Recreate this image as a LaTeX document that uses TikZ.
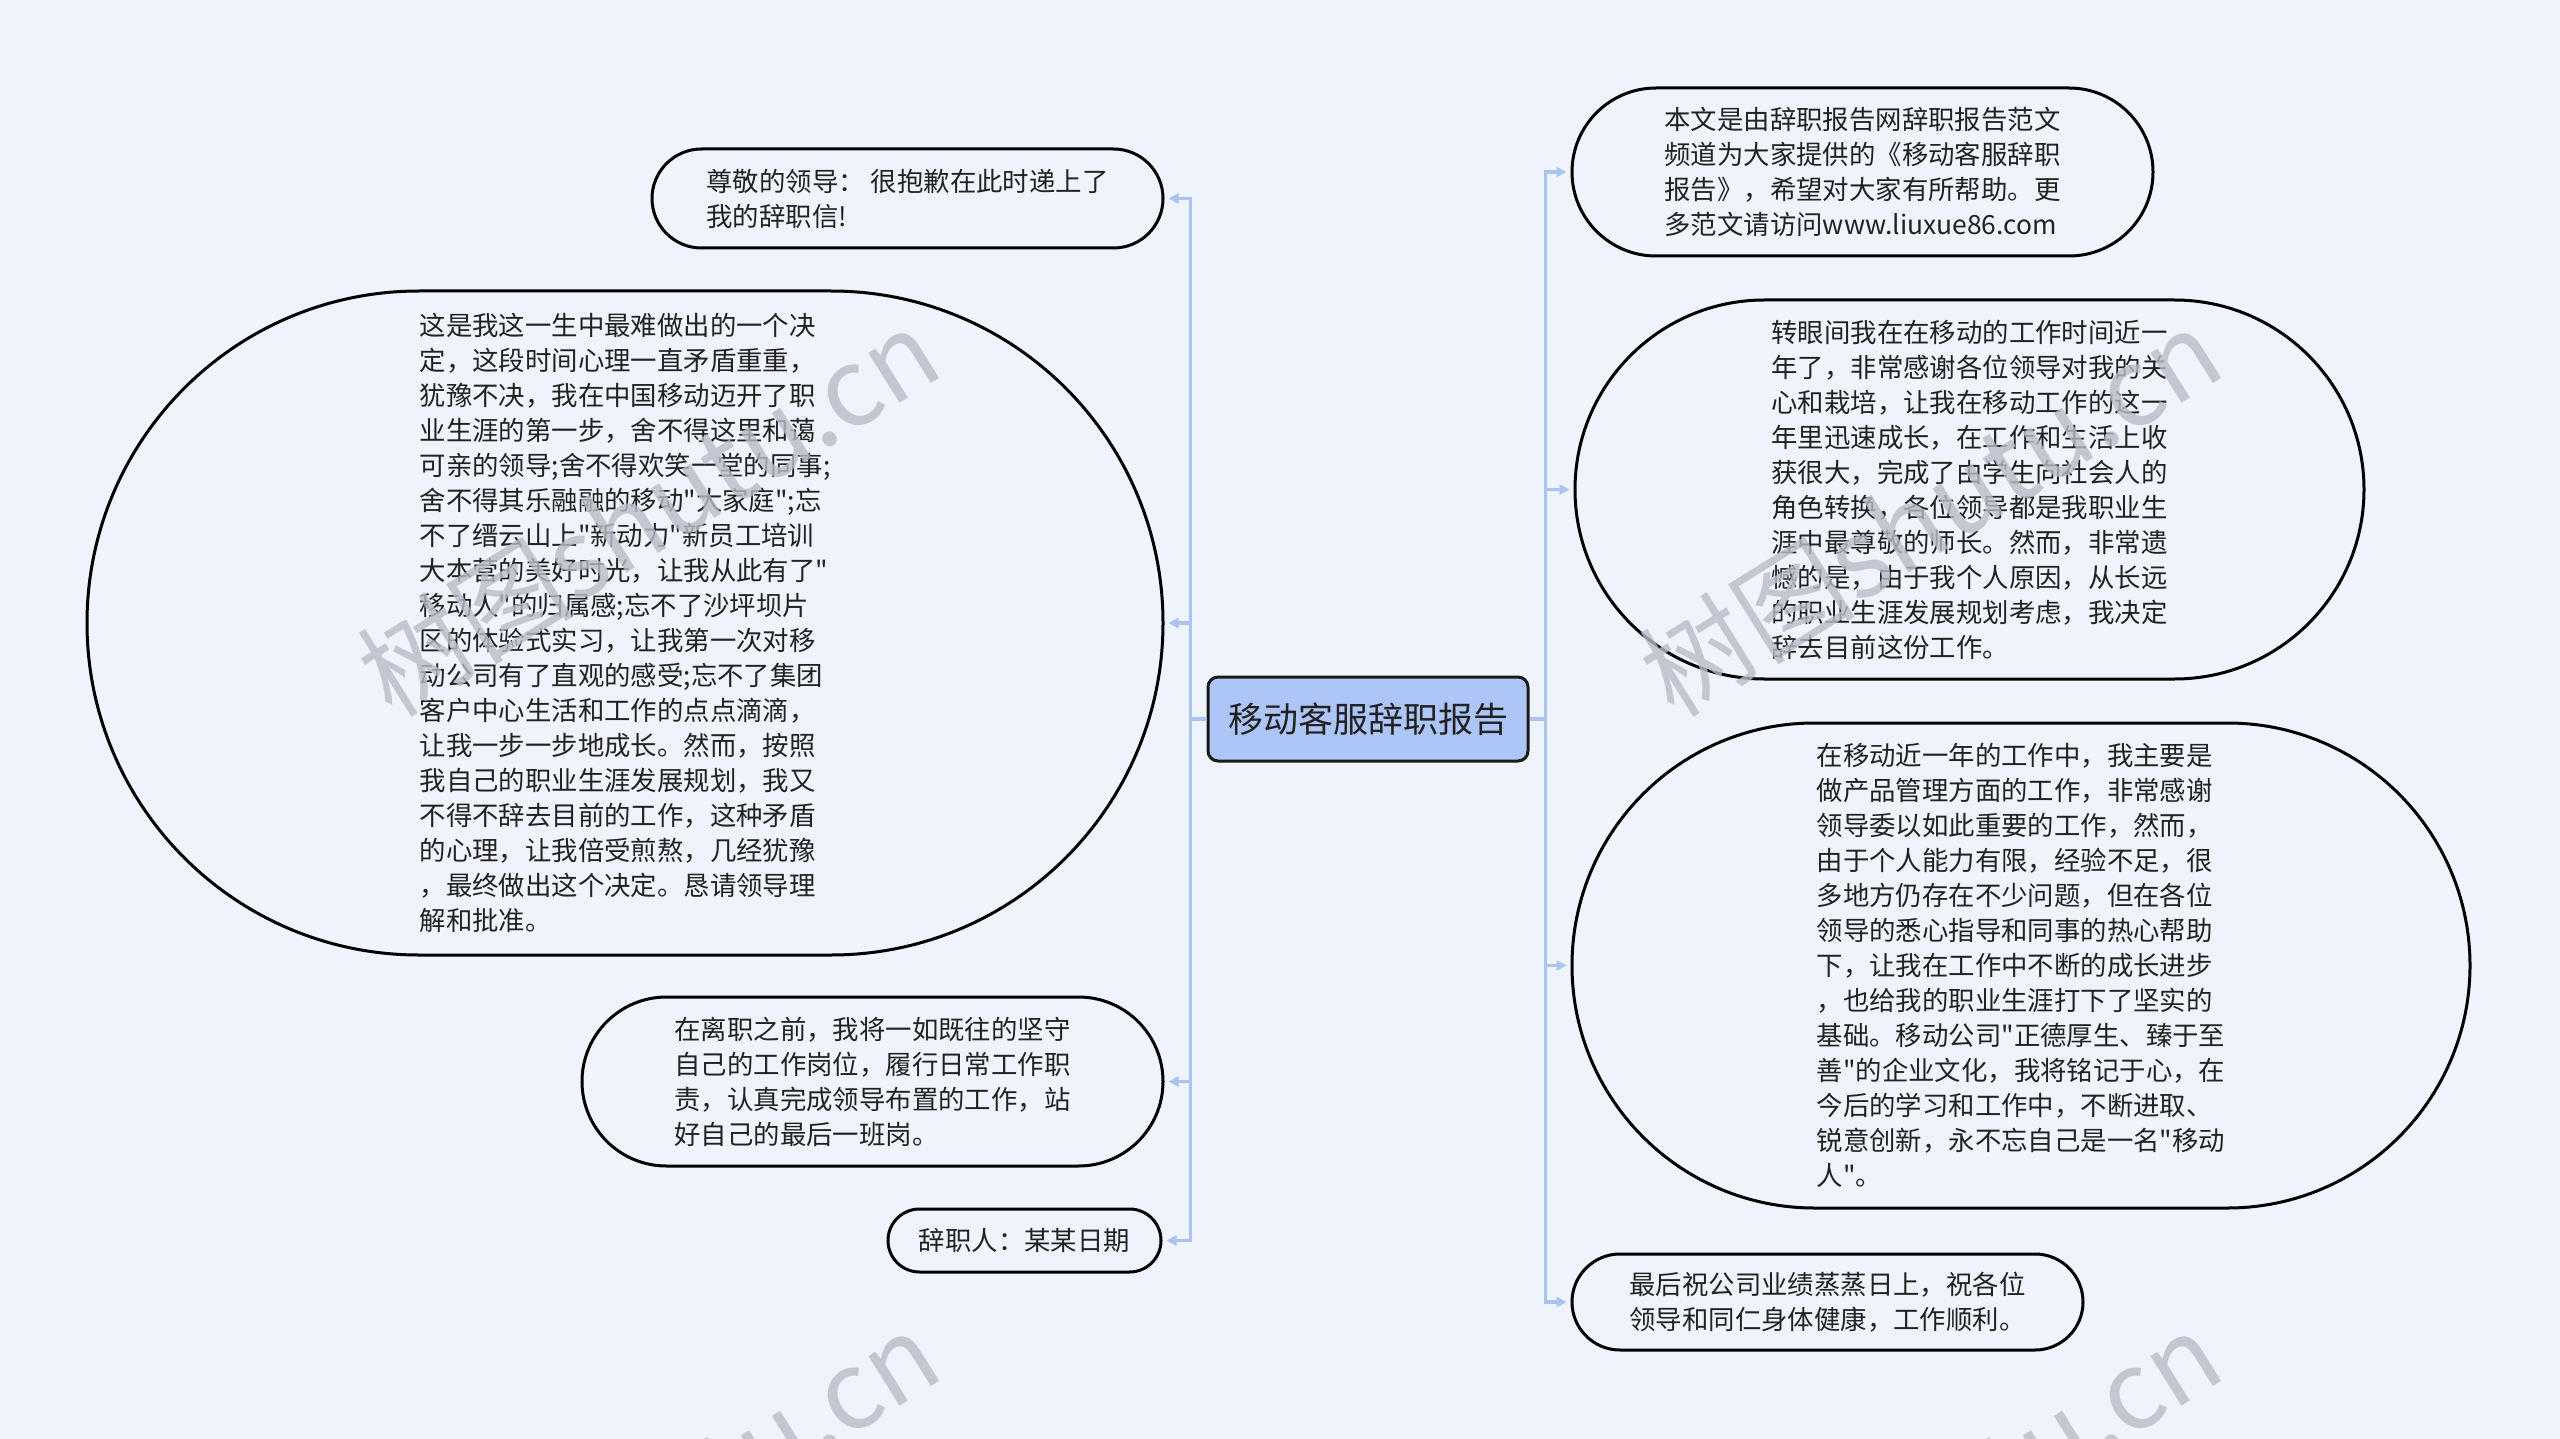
\documentclass[tikz,border=0pt]{standalone}
\usepackage{fontspec}
\setmainfont{Noto Sans CJK SC}[Ligatures=TeXOff]
\usetikzlibrary{shapes.misc,arrows.meta}
\definecolor{bg}{RGB}{239,243,251}
\definecolor{linkc}{RGB}{170,196,238}
\definecolor{rootfill}{RGB}{173,198,247}
\definecolor{txt}{RGB}{34,34,34}
\definecolor{wm}{RGB}{185,189,199}
\begin{document}
\begin{tikzpicture}[x=0.5pt,y=-0.5pt,
  topic/.style={rounded rectangle, draw=black, line width=1.5pt, inner sep=0pt, align=left, text=txt, font=\fontsize{13.2pt}{17.5pt}\selectfont},
  root/.style={rectangle, rounded corners=5pt, draw=black!90, fill=rootfill, line width=1.5pt, inner sep=0pt, minimum width=160pt, minimum height=42pt, font=\fontsize{17.5pt}{20pt}\selectfont, text=txt},
  linkline/.style={draw=linkc, line width=1.6pt, -{Triangle[length=5pt,width=5pt]}, shorten >=2pt},
  wmark/.style={rotate=32, text=wm, opacity=0.8, font=\fontsize{54pt}{54pt}\selectfont}]
\fill[bg] (0,0) rectangle (2560,1439);
\useasboundingbox (0,0) rectangle (2560,1439);

\node[root] (C) at (1368,719) {移动客服辞职报告};

\node[topic, minimum width=255.5pt, minimum height=49.5pt] (L1) at (907.5,198.5)
 {尊敬的领导： 很抱歉在此时递上了\\我的辞职信!};
\node[topic, minimum width=538pt, minimum height=332pt] (L2) at (625,623)
 {这是我这一生中最难做出的一个决\\定，这段时间心理一直矛盾重重，\\犹豫不决，我在中国移动迈开了职\\业生涯的第一步，舍不得这里和蔼\\可亲的领导;舍不得欢笑一堂的同事;\\舍不得其乐融融的移动"大家庭";忘\\不了缙云山上"新动力"新员工培训\\大本营的美好时光，让我从此有了"\\移动人"的归属感;忘不了沙坪坝片\\区的体验式实习，让我第一次对移\\动公司有了直观的感受;忘不了集团\\客户中心生活和工作的点点滴滴，\\让我一步一步地成长。然而，按照\\我自己的职业生涯发展规划，我又\\不得不辞去目前的工作，这种矛盾\\的心理，让我倍受煎熬，几经犹豫\\，最终做出这个决定。恳请领导理\\解和批准。};
\node[topic, minimum width=290.5pt, minimum height=84.5pt] (L3) at (872.5,1081.5)
 {在离职之前，我将一如既往的坚守\\自己的工作岗位，履行日常工作职\\责，认真完成领导布置的工作，站\\好自己的最后一班岗。};
\node[topic, minimum width=136.5pt, minimum height=31.5pt] (L4) at (1024.5,1240.5)
 {辞职人：某某日期};

\node[topic, minimum width=290.5pt, minimum height=84pt] (R1) at (1862.5,172)
 {本文是由辞职报告网辞职报告范文\\频道为大家提供的《移动客服辞职\\报告》，希望对大家有所帮助。更\\多范文请访问www.liuxue86.com};
\node[topic, minimum width=394.5pt, minimum height=189.5pt] (R2) at (1969.5,489.5)
 {转眼间我在在移动的工作时间近一\\年了，非常感谢各位领导对我的关\\心和栽培，让我在移动工作的这一\\年里迅速成长，在工作和生活上收\\获很大，完成了由学生向社会人的\\角色转换，各位领导都是我职业生\\涯中最尊敬的师长。然而，非常遗\\憾的是，由于我个人原因，从长远\\的职业生涯发展规划考虑，我决定\\辞去目前这份工作。};
\node[topic, minimum width=449pt, minimum height=242.5pt] (R3) at (2021,965.5)
 {在移动近一年的工作中，我主要是\\做产品管理方面的工作，非常感谢\\领导委以如此重要的工作，然而，\\由于个人能力有限，经验不足，很\\多地方仍存在不少问题，但在各位\\领导的悉心指导和同事的热心帮助\\下，让我在工作中不断的成长进步\\，也给我的职业生涯打下了坚实的\\基础。移动公司"正德厚生、臻于至\\善"的企业文化，我将铭记于心，在\\今后的学习和工作中，不断进取、\\锐意创新，永不忘自己是一名"移动\\人"。};
\node[topic, minimum width=255.5pt, minimum height=48pt] (R4) at (1827.5,1302)
 {最后祝公司业绩蒸蒸日上，祝各位\\领导和同仁身体健康，工作顺利。};

\foreach \t in {L1,L2,L3,L4}
  \draw[linkline] (C.west) -- ++(-8pt,0) |- (\t.east);
\foreach \t in {R1,R2,R3,R4}
  \draw[linkline] (C.east) -- ++(8pt,0) |- (\t.west);

\node[wmark] (W1) at (648,512) {树图shutu.cn};
\node[wmark] (W2) at (1930,512) {树图shutu.cn};
\node[wmark] (W3) at (648,1515) {树图shutu.cn};
\node[wmark] (W4) at (1930,1515) {树图shutu.cn};
\end{tikzpicture}
\end{document}
